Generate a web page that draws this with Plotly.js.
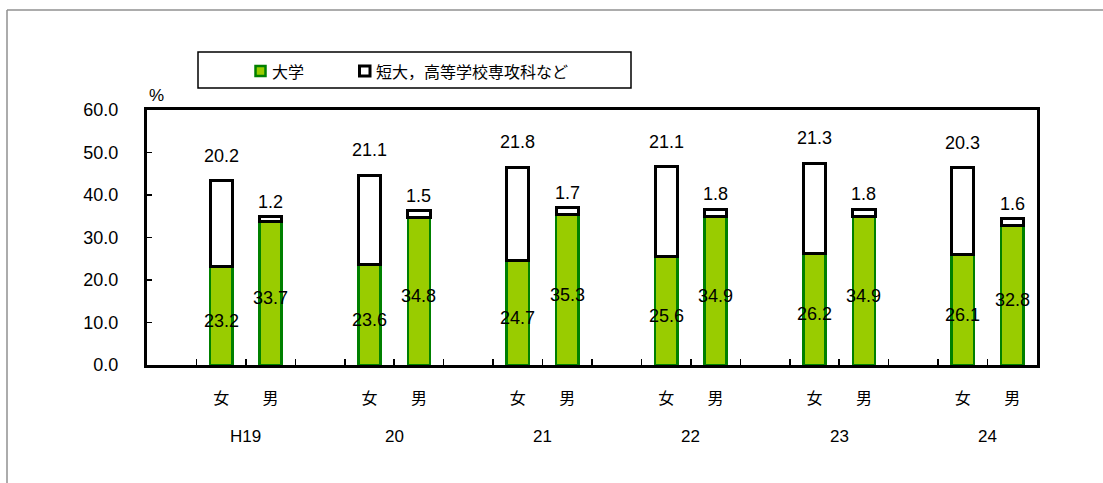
<!DOCTYPE html>
<html>
<head>
<meta charset="utf-8">
<script src="https://cdn.plot.ly/plotly-3.0.1.min.js"></script>
<style>
  html, body { margin: 0; padding: 0; background: #ffffff; }
  #chart { width: 1103px; height: 483px; }
</style>
</head>
<body>
<div id="chart"></div>
<script>
// Academic year groups and the two sexes within each group
const years = ['H19', '20', '21', '22', '23', '24'];
const sexes = ['女', '男'];

// Progression rates (%), ordered 女, 男 for each year
const univ   = [23.2, 33.7, 23.6, 34.8, 24.7, 35.3, 25.6, 34.9, 26.2, 34.9, 26.1, 32.8];
const junior = [20.2, 1.2, 21.1, 1.5, 21.8, 1.7, 21.1, 1.8, 21.3, 1.8, 20.3, 1.6];

const seriesNames = ['大学', '短大，高等学校専攻科など'];
const yTicks = [0, 10, 20, 30, 40, 50, 60];

// Page geometry (pixels)
const W = 1103, H = 483;
const M = { l: 147, r: 66, t: 110, b: 118 };
const PW = W - M.l - M.r, PH = H - M.t - M.b;
const px = x => (x - M.l) / PW;          // page x -> paper x
const py = y => (H - M.b - y) / PH;      // page y -> paper y

const numFont = 'Liberation Sans, Arial, sans-serif';
const cjkFont = 'Noto Sans CJK JP, sans-serif';

// Each year occupies three slots: an empty spacer, 女, 男
const xPos = univ.map((_, i) => 3 * Math.floor(i / 2) + 1.5 + (i % 2));
const xLabels = univ.map((_, i) => sexes[i % 2]);
const totals = univ.map((v, i) => v + junior[i]);

const traces = [
  {
    type: 'bar', name: seriesNames[0], x: xPos, y: univ, width: 0.45,
    marker: { color: '#99CC00', line: { color: '#008000', width: 2.5 } },
    hoverinfo: 'skip', showlegend: false
  },
  {
    type: 'bar', name: seriesNames[1], x: xPos, y: junior, width: 0.45,
    marker: { color: '#FFFFFF', line: { color: '#000000', width: 3 } },
    hoverinfo: 'skip', showlegend: false
  },
  // invisible trace that carries the 女/男 labels on the secondary axis
  {
    type: 'scatter', mode: 'markers', x: xPos, y: univ.map(() => 0),
    xaxis: 'x2', marker: { opacity: 0 }, hoverinfo: 'skip', showlegend: false
  }
];

const annotations = [];
// value labels: 大学 inside the bar, 短大 etc. above the stack
univ.forEach((v, i) => {
  annotations.push({
    x: xPos[i], y: v / 2, xref: 'x', yref: 'y', text: v.toFixed(1),
    showarrow: false, yshift: -5, yanchor: 'middle',
    font: { family: numFont, size: 18, color: '#000' }
  });
  annotations.push({
    x: xPos[i], y: totals[i], xref: 'x', yref: 'y', text: junior[i].toFixed(1),
    showarrow: false, yshift: i % 2 === 0 ? 25 : 15, yanchor: 'middle',
    font: { family: numFont, size: 18, color: '#000' }
  });
});
// year labels centred under each pair
years.forEach((yr, g) => {
  annotations.push({
    x: 3 * g + 2, y: py(437), xref: 'x', yref: 'paper', text: yr,
    showarrow: false, yanchor: 'middle',
    font: { family: numFont, size: 17, color: '#000' }
  });
});
// unit
annotations.push({
  x: px(147), y: py(95), xref: 'paper', yref: 'paper', text: '%',
  showarrow: false, xanchor: 'left', yanchor: 'middle',
  font: { family: numFont, size: 17, color: '#000' }
});
// legend text
annotations.push({
  x: px(270), y: py(71), xref: 'paper', yref: 'paper', text: seriesNames[0],
  showarrow: false, xanchor: 'left', yanchor: 'middle',
  font: { family: cjkFont, size: 16, color: '#000' }
});
annotations.push({
  x: px(374), y: py(71), xref: 'paper', yref: 'paper', text: seriesNames[1],
  showarrow: false, xanchor: 'left', yanchor: 'middle',
  font: { family: cjkFont, size: 16, color: '#000' }
});

const shapes = [
  // outer frame edges
  { type: 'line', xref: 'paper', yref: 'paper', x0: px(7), x1: px(1103), y0: py(10), y1: py(10),
    line: { color: '#909090', width: 1.5 } },
  { type: 'line', xref: 'paper', yref: 'paper', x0: px(7), x1: px(7), y0: py(10), y1: py(483),
    line: { color: '#909090', width: 1.5 } },
  // legend box
  { type: 'rect', xref: 'paper', yref: 'paper', x0: px(198), x1: px(631), y0: py(88), y1: py(52),
    line: { color: '#000', width: 1.5 }, fillcolor: '#fff' },
  // legend keys
  { type: 'rect', xref: 'paper', yref: 'paper', x0: px(255.5), x1: px(265.5), y0: py(76), y1: py(66),
    line: { color: '#008000', width: 2.5 }, fillcolor: '#99CC00' },
  { type: 'rect', xref: 'paper', yref: 'paper', x0: px(359.5), x1: px(370), y0: py(76), y1: py(66),
    line: { color: '#000', width: 3 }, fillcolor: '#fff' }
];

const layout = {
  width: W, height: H,
  margin: { l: M.l, r: M.r, t: M.t, b: M.b, pad: 0 },
  paper_bgcolor: '#ffffff', plot_bgcolor: '#ffffff',
  barmode: 'stack',
  showlegend: false,
  xaxis: {
    range: [0, 18], tickvals: Array.from({ length: 17 }, (_, k) => k + 1),
    ticktext: Array.from({ length: 17 }, () => ''),
    ticks: 'inside', ticklen: 6, tickwidth: 1.5, tickcolor: '#000',
    showline: true, linecolor: '#000', linewidth: 3, mirror: true,
    showgrid: false, zeroline: false, fixedrange: true
  },
  xaxis2: {
    overlaying: 'x', side: 'bottom', range: [0, 18],
    tickvals: xPos, ticktext: xLabels, ticks: '',
    showline: false, showgrid: false, zeroline: false,
    ticklabelstandoff: 22,
    tickfont: { family: cjkFont, size: 16, color: '#000' }
  },
  yaxis: {
    range: [0, 60], tickvals: yTicks, ticktext: yTicks.map(v => v.toFixed(1)),
    ticks: 'inside', ticklen: 5, tickwidth: 1.5, tickcolor: '#000',
    showline: true, linecolor: '#000', linewidth: 3, mirror: true,
    showgrid: false, zeroline: false,
    ticklabelstandoff: 22,
    tickfont: { family: numFont, size: 18, color: '#000' }
  },
  annotations: annotations,
  shapes: shapes
};

Plotly.newPlot('chart', traces, layout, { staticPlot: true, displayModeBar: false });
</script>
</body>
</html>
